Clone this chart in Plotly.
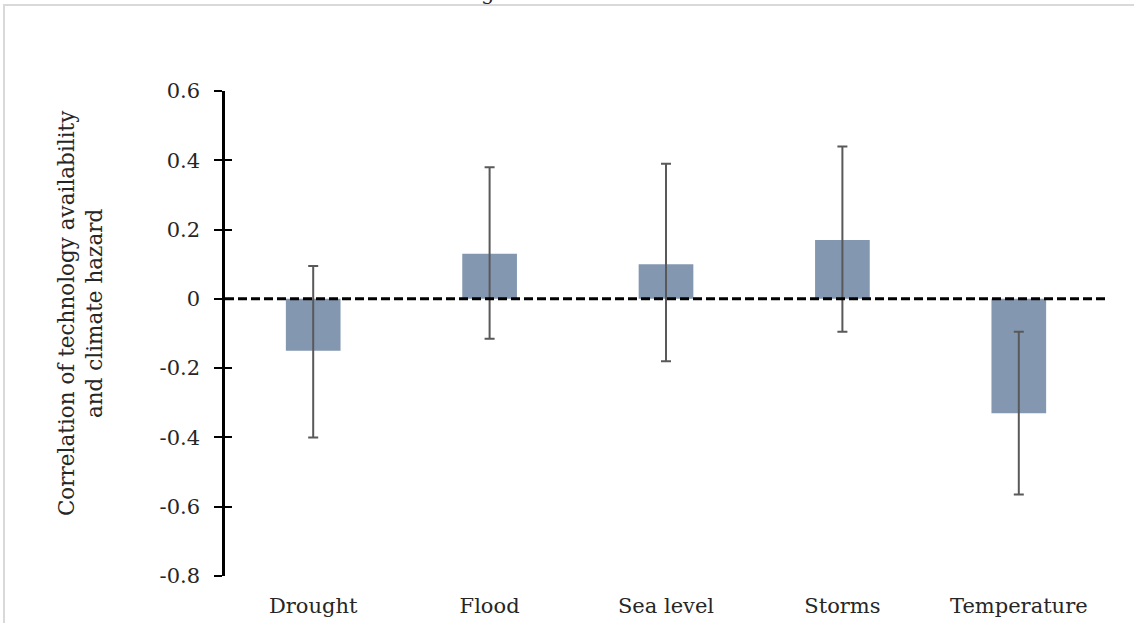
import plotly.graph_objects as go

categories = ["Drought", "Flood", "Sea level", "Storms", "Temperature"]
values = [-0.15, 0.13, 0.10, 0.17, -0.33]
err_plus = [0.245, 0.25, 0.29, 0.27, 0.235]
err_minus = [0.25, 0.245, 0.28, 0.265, 0.235]
y_ticks = [0.6, 0.4, 0.2, 0, -0.2, -0.4, -0.6, -0.8]
y_ticktext = ["0.6", "0.4", "0.2", "0", "-0.2", "-0.4", "-0.6", "-0.8"]
y_title = "Correlation of technology availability<br>and climate hazard"
cut_title = "g"

W, H = 1134, 623
L, T = 225, 91
X_END, Y_END = 1107.5, 576
R, B = W - X_END, H - Y_END
pw, ph = X_END - L, Y_END - T

def px(x):
    return (x - L) / pw

def py(y):
    return (Y_END - y) / ph

FONT = "DejaVu Serif"
TXT = "#262626"
FS = 21

fig = go.Figure()
fig.add_trace(go.Bar(
    x=categories, y=values, width=0.31,
    marker=dict(color="#8497B0", line=dict(width=0)),
    error_y=dict(type="data", array=err_plus, arrayminus=err_minus,
                 color="#595959", thickness=2, width=5),
))
fig.add_trace(go.Scatter(x=categories, y=values, yaxis="y2", mode="markers",
                         marker=dict(opacity=0), hoverinfo="skip", showlegend=False))

fig.update_layout(
    width=W, height=H, autosize=False,
    margin=dict(l=L, r=R, t=T, b=B, autoexpand=False),
    paper_bgcolor="white", plot_bgcolor="white",
    showlegend=False,
    font=dict(family=FONT, size=FS, color=TXT),
    xaxis=dict(showgrid=False, zeroline=False, showline=False, ticks="",
               automargin=False,
               tickfont=dict(family=FONT, size=FS, color=TXT),
               ticklabelstandoff=15),
    yaxis=dict(range=[-0.8, 0.6], showgrid=False, zeroline=False,
               automargin=False,
               showline=True, linecolor="black", linewidth=2.5,
               ticks="outside", ticklen=8, tickwidth=2, tickcolor="black",
               tickvals=y_ticks, ticktext=y_ticktext,
               tickfont=dict(family=FONT, size=FS, color=TXT),
               ticklabelstandoff=10),
    yaxis2=dict(range=[-0.8, 0.6], overlaying="y", side="left",
                automargin=False,
                showgrid=False, zeroline=False, showline=False,
                ticks="inside", ticklen=7, tickwidth=2, tickcolor="black",
                tickvals=y_ticks, showticklabels=False),
    shapes=[
        dict(type="line", xref="paper", yref="y", x0=0, x1=1, y0=0, y1=0,
             line=dict(color="black", width=3, dash="9px,4px"), layer="above"),
    ],
    annotations=[
        dict(text=y_title, textangle=-90, xref="paper", yref="paper",
             x=px(80), y=py(313), xanchor="center", yanchor="middle",
             showarrow=False, font=dict(family=FONT, size=21.5, color=TXT),
             align="center"),
        dict(text=cut_title, xref="paper", yref="paper",
             x=px(488), y=py(7), xanchor="center", yanchor="bottom",
             showarrow=False, font=dict(family=FONT, size=FS, color=TXT)),
    ],
)

post = ("document.body.style.margin='0';document.body.style.overflow='hidden';"
        "var fr=document.createElement('div');"
        "fr.style.cssText='position:fixed;left:3px;top:4px;width:1300px;height:800px;"
        "border-top:2px solid #d9d9d9;border-left:2px solid #d9d9d9;"
        "pointer-events:none;z-index:10;';"
        "document.body.appendChild(fr);")

fig.write_html("out.html", config={"displayModeBar": False, "responsive": False},
               post_script=post)
